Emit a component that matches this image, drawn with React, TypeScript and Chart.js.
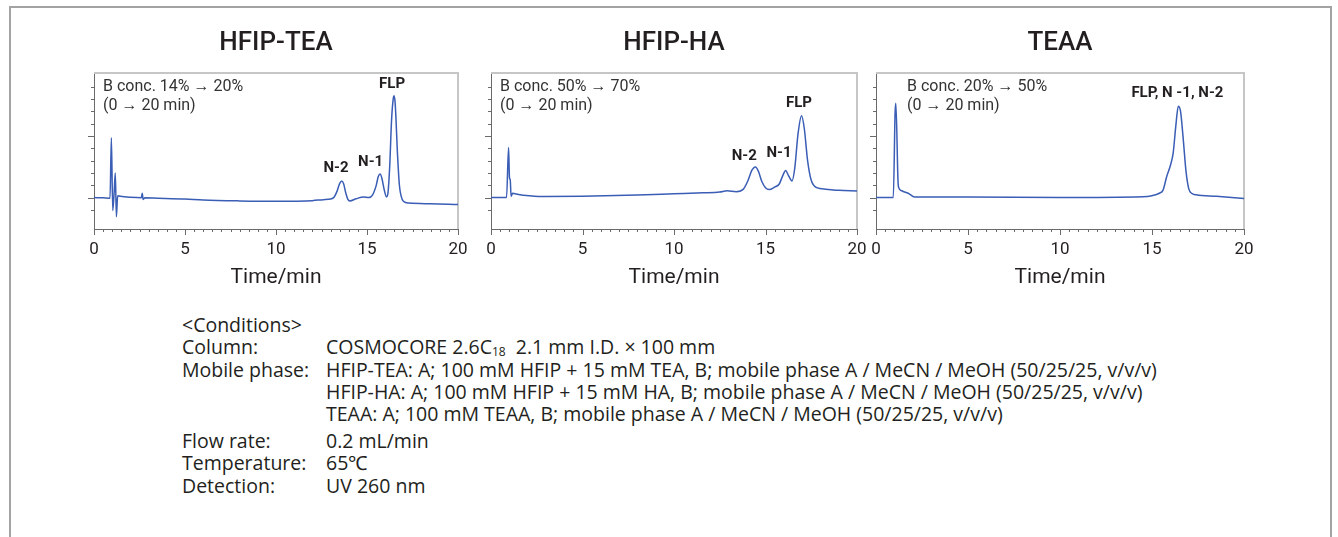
import React, { useEffect, useRef } from 'react';
import { Chart, registerables } from 'chart.js';

Chart.register(...registerables);

// ---------- data ----------
const teaTime = [0, 0.5, 0.88, 0.955, 1.03, 1.1, 1.17, 1.23, 1.3, 1.45, 2.0, 2.6, 2.65, 2.7, 2.8, 3.5, 5.0, 6.0, 8.0, 10.0, 12.0, 12.6, 13.0, 13.2, 13.35, 13.5, 13.62, 13.72, 13.82, 13.95, 14.05, 14.4, 14.8, 15.1, 15.3, 15.5, 15.62, 15.72, 15.82, 15.95, 16.07, 16.15, 16.25, 16.35, 16.45, 16.49, 16.55, 16.68, 16.78, 16.88, 17.0, 17.3, 18.5, 20];
const teaSignal = [0.0, -0.02, -0.05, 4.85, -1.05, 0.25, 2.0, -1.55, 0.15, 0.1, 0.02, -0.02, 0.35, -0.15, -0.02, -0.05, -0.12, -0.2, -0.27, -0.3, -0.25, -0.17, -0.12, 0.05, 0.5, 1.15, 1.35, 1.1, 0.45, -0.15, -0.27, -0.1, 0.05, 0.0, 0.2, 0.95, 1.7, 1.9, 1.55, 0.6, 0.05, 0.35, 2.6, 6.3, 8.1, 8.25, 7.6, 3.4, 1.0, 0.1, -0.3, -0.45, -0.5, -0.57];

const haTime = [0, 0.85, 0.96, 1.01, 1.05, 1.1, 1.18, 1.5, 2.1, 3.0, 5.0, 8.0, 10.0, 11.6, 12.5, 12.9, 13.4, 13.8, 14.05, 14.25, 14.45, 14.62, 14.8, 15.0, 15.2, 15.5, 15.75, 15.95, 16.1, 16.25, 16.45, 16.6, 16.78, 16.97, 17.12, 17.3, 17.5, 17.8, 18.3, 19.0, 20.0];
const haSignal = [0.0, 0.0, 4.05, 1.6, 1.45, 0.1, 0.35, 0.25, 0.15, 0.08, 0.1, 0.2, 0.3, 0.38, 0.45, 0.55, 0.48, 0.7, 1.4, 2.2, 2.48, 2.1, 1.3, 0.8, 0.65, 0.85, 1.1, 1.8, 2.2, 1.8, 1.35, 2.4, 5.2, 6.64, 5.6, 3.0, 1.4, 0.8, 0.68, 0.59, 0.54];

const teaaTime = [0, 0.94, 1.04, 1.08, 1.2, 1.25, 1.4, 1.75, 2.1, 5.0, 10.0, 14.5, 15.0, 15.4, 15.6, 15.8, 16.0, 16.15, 16.3, 16.43, 16.55, 16.7, 16.85, 17.0, 17.15, 17.4, 18.5, 20];
const teaaSignal = [0, 0, 7.0, 7.65, 1.2, 0.75, 0.55, 0.35, 0.05, 0.04, 0.0, 0.06, 0.15, 0.35, 0.6, 1.7, 2.6, 3.6, 5.9, 7.4, 7.0, 4.7, 2.1, 0.7, 0.35, 0.22, 0.1, -0.07];

const panelTitles = ['HFIP-TEA', 'HFIP-HA', 'TEAA'];
const gradientNotes = [
  ['B conc. 14% → 20%', '(0 → 20 min)'],
  ['B conc. 50% → 70%', '(0 → 20 min)'],
  ['B conc. 20% → 50%', '(0 → 20 min)'],
];

const teaPeakNames = ['N-2', 'N-1', 'FLP'];
const teaPeakTimes = [13.3, 15.2, 16.38];
const teaPeakHeights = [2.35, 2.88, 9.17];

const haPeakNames = ['N-2', 'N-1', 'FLP'];
const haPeakTimes = [13.84, 15.74, 16.83];
const haPeakHeights = [3.35, 3.56, 7.67];

const teaaPeakNames = ['FLP, N -1, N-2'];
const teaaPeakTimes = [16.38];
const teaaPeakHeights = [8.48];

const xTickLabels = ['0', '5', '10', '15', '20'];
const xAxisTitle = 'Time/min';

const conditionLabels = ['<Conditions>', 'Column:', 'Mobile phase:', '', '', 'Flow rate:', 'Temperature:', 'Detection:'];
const conditionValues = [
  '',
  'COSMOCORE 2.6C|18|  2.1 mm I.D. × 100 mm',
  'HFIP-TEA: A; 100 mM HFIP + 15 mM TEA, B; mobile phase A / MeCN / MeOH (50/25/25, v/v/v)',
  'HFIP-HA: A; 100 mM HFIP + 15 mM HA, B; mobile phase A / MeCN / MeOH (50/25/25, v/v/v)',
  'TEAA: A; 100 mM TEAA, B; mobile phase A / MeCN / MeOH (50/25/25, v/v/v)',
  '0.2 mL/min',
  '65℃',
  'UV 260 nm',
];

// ---------- styles / layout ----------
const FONT = 'Roboto, "Noto Sans", sans-serif';
const COND_FONT = '"Open Sans", Roboto, sans-serif';
const TEXT = '#231f20';
const CURVE = '#3a5db5';
const AXIS = '#6a6a6a';
const FRAME = '#c6c6c6';
const CANVAS_TOP = 15;
const CANVAS_H = 285;
const PLOT_TOP = 73;
const PLOT_BOTTOM = 229;
const SIDE = 30;

const panels = [
  { title: panelTitles[0], note: gradientNotes[0], noteDx: 9, time: teaTime, signal: teaSignal, names: teaPeakNames, pt: teaPeakTimes, ph: teaPeakHeights, left: 94, right: 458 },
  { title: panelTitles[1], note: gradientNotes[1], noteDx: 9, time: haTime, signal: haSignal, names: haPeakNames, pt: haPeakTimes, ph: haPeakHeights, left: 491, right: 857 },
  { title: panelTitles[2], note: gradientNotes[2], noteDx: 31, time: teaaTime, signal: teaaSignal, names: teaaPeakNames, pt: teaaPeakTimes, ph: teaaPeakHeights, left: 876, right: 1244 },
];

const decorPlugin = {
  id: 'decor',
  beforeDatasetsDraw(chart: any) {
    const { ctx, chartArea: a } = chart;
    ctx.save();
    ctx.strokeStyle = FRAME;
    ctx.lineWidth = 2;
    ctx.beginPath();
    ctx.moveTo(a.left, a.top);
    ctx.lineTo(a.right, a.top);
    ctx.lineTo(a.right, a.bottom);
    ctx.stroke();
    ctx.restore();
  },
  afterDraw(chart: any, _args: any, opts: any) {
    const { ctx, chartArea: a, scales } = chart;
    const x = scales.x;
    const y = scales.y;
    ctx.save();
    ctx.strokeStyle = AXIS;
    ctx.lineWidth = 1;
    ctx.beginPath();
    for (const t of x.ticks) {
      const v = t.value;
      if (Math.abs(v * 2 - Math.round(v * 2)) > 1e-6) continue;
      const px = Math.round(x.getPixelForValue(v)) + 0.5;
      const len = Math.abs(v % 5) < 1e-6 ? 6 : 3;
      ctx.moveTo(px, a.bottom);
      ctx.lineTo(px, a.bottom + len);
    }
    for (const t of y.ticks) {
      const v = t.value;
      if (Math.abs(v - Math.round(v)) > 1e-6) continue;
      const py = Math.round(y.getPixelForValue(v)) + 0.5;
      const len = Math.abs(v % 5) < 1e-6 ? 6 : 3;
      ctx.moveTo(a.left - len, py);
      ctx.lineTo(a.left, py);
    }
    ctx.stroke();

    // title
    ctx.fillStyle = TEXT;
    ctx.textAlign = 'center';
    ctx.textBaseline = 'middle';
    ctx.font = `500 26px ${FONT}`;
    ctx.fillText(opts.title, (a.left + a.right) / 2, a.top - 30);

    // gradient note
    ctx.textAlign = 'left';
    ctx.font = `16px ${FONT}`;
    ctx.fillStyle = '#333';
    ctx.fillText(opts.note[0], a.left + opts.noteDx, a.top + 14);
    ctx.fillText(opts.note[1], a.left + opts.noteDx, a.top + 33);

    // peak labels
    ctx.textAlign = 'center';
    ctx.fillStyle = TEXT;
    ctx.font = `bold 15px ${FONT}`;
    opts.names.forEach((n: string, i: number) => {
      ctx.fillText(n, x.getPixelForValue(opts.pt[i]), y.getPixelForValue(opts.ph[i]));
    });
    ctx.restore();
  },
};

function Panel({ spec }: { spec: any }) {
  const ref = useRef<HTMLCanvasElement>(null);
  const w = spec.right - spec.left + SIDE * 2;
  useEffect(() => {
    const canvas = ref.current!;
    const chart = new Chart(canvas, {
      type: 'line',
      data: {
        datasets: [
          {
            data: spec.time.map((t: number, i: number) => ({ x: t, y: spec.signal[i] })),
            borderColor: CURVE,
            borderWidth: 1.5,
            pointRadius: 0,
            cubicInterpolationMode: 'monotone',
            fill: false,
          },
        ],
      },
      options: {
        animation: false,
        responsive: false,
        devicePixelRatio: 1,
        events: [],
        layout: { padding: { top: PLOT_TOP - CANVAS_TOP, right: SIDE, left: 0, bottom: 0 } },
        plugins: {
          legend: { display: false },
          tooltip: { enabled: false },
          title: { display: false },
          decor: { title: spec.title, note: spec.note, noteDx: spec.noteDx, names: spec.names, pt: spec.pt, ph: spec.ph },
        } as any,
        scales: {
          x: {
            type: 'linear',
            min: 0,
            max: 20,
            grid: { display: false, drawTicks: false },
            border: { display: true, color: AXIS, width: 1 },
            ticks: {
              stepSize: 0.5,
              autoSkip: false,
              maxRotation: 0,
              padding: 11,
              color: TEXT,
              font: { family: FONT, size: 17 },
              callback: (v: any) => (xTickLabels.includes(String(v)) ? String(v) : ''),
            },
            title: { display: true, text: xAxisTitle, color: TEXT, font: { family: FONT, size: 21 }, padding: { top: 0, bottom: 10 } },
            afterFit: (s: any) => {
              s.height = CANVAS_H - (PLOT_BOTTOM - CANVAS_TOP);
            },
          },
          y: {
            type: 'linear',
            min: -2.55,
            max: 10.1,
            grid: { display: false, drawTicks: false },
            border: { display: true, color: AXIS, width: 1 },
            ticks: { display: false, stepSize: 1 },
            afterFit: (s: any) => {
              s.width = SIDE;
            },
          },
        },
      } as any,
      plugins: [decorPlugin],
    });
    return () => chart.destroy();
  }, []);
  return (
    <canvas
      ref={ref}
      width={w}
      height={CANVAS_H}
      style={{ position: 'absolute', left: spec.left - SIDE, top: CANVAS_TOP, width: w, height: CANVAS_H }}
    />
  );
}

const conditionY = [325, 347, 370, 392, 414, 441, 463, 486];

function renderValue(v: string) {
  const parts = v.split('|');
  if (parts.length === 1) return v;
  return (
    <>
      {parts[0]}
      <sub style={{ fontSize: '12px', verticalAlign: '-2px' }}>{parts[1]}</sub>
      <span style={{ whiteSpace: 'pre' }}>{parts[2]}</span>
    </>
  );
}

export default function App() {
  return (
    <div style={{ position: 'absolute', left: 0, top: 0, width: 1338, height: 537, background: '#fff', overflow: 'hidden', fontFamily: FONT, color: TEXT }}>
      <div style={{ position: 'absolute', left: 9, top: 6, width: 1319, height: 560, borderTop: '2px solid #a3a3a3', borderLeft: '2px solid #a3a3a3', borderRight: '2px solid #a3a3a3' }} />
      {panels.map((p, i) => (
        <Panel key={i} spec={p} />
      ))}
      {conditionLabels.map((lab, i) => (
        <React.Fragment key={i}>
          <div style={{ position: 'absolute', left: 182, top: conditionY[i] - 11, lineHeight: '22px', fontSize: 19.5, fontFamily: COND_FONT, whiteSpace: 'pre' }}>{lab}</div>
          <div style={{ position: 'absolute', left: 326, top: conditionY[i] - 11, lineHeight: '22px', fontSize: 19.5, fontFamily: COND_FONT, whiteSpace: 'pre' }}>{renderValue(conditionValues[i])}</div>
        </React.Fragment>
      ))}
    </div>
  );
}
